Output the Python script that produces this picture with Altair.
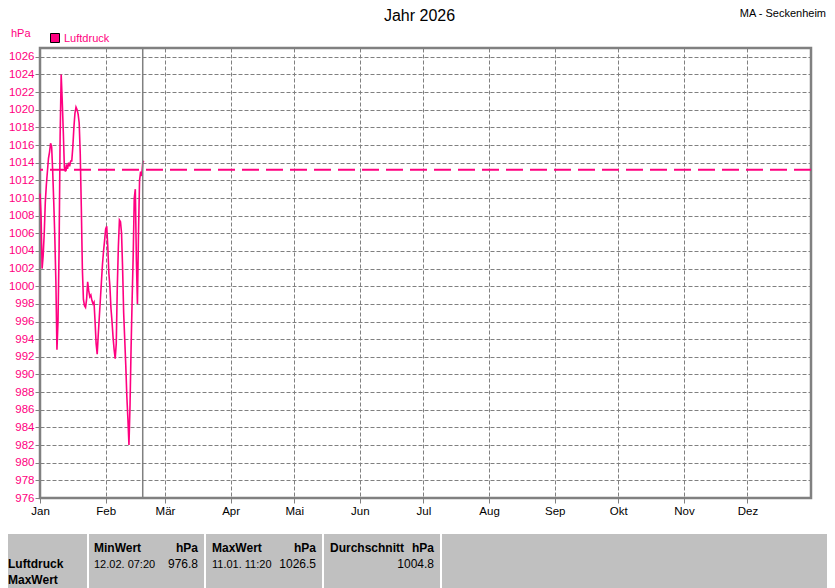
import altair as alt
import pandas as pd

# ---------------- data ----------------
pressure = [
    1010.5, 1008.0, 1002.0, 1003.5, 1006.0, 1009.5, 1011.5, 1013.0, 1014.5, 1015.2,
    1016.2, 1015.8, 1013.0, 1009.5, 1005.5, 1000.5, 992.8, 996.0, 1004.0, 1017.0,
    1024.0, 1021.0, 1017.5, 1013.5, 1013.0, 1013.8, 1013.3, 1014.0, 1013.6, 1014.2,
    1014.2, 1015.8, 1018.0, 1019.6, 1020.3, 1020.0, 1019.5, 1018.5, 1015.0, 1009.0,
    1002.0, 998.5, 997.8, 997.6, 998.5, 1000.5, 999.5, 998.8, 999.0, 998.4,
    998.0, 998.2, 996.0, 993.5, 992.3, 994.5, 996.5, 998.5, 1000.5, 1002.5,
    1004.0, 1005.2, 1006.5, 1006.8, 1004.5, 1001.5, 1000.0, 997.5, 996.0, 994.2,
    992.8, 991.8, 993.5, 1000.0, 1004.5, 1007.5, 1007.3, 1006.0, 1002.0, 997.0,
    994.0, 991.0, 987.5, 985.0, 982.0, 986.5, 993.0, 998.5, 1003.5, 1010.0,
    1011.0, 1003.0, 998.0, 1006.0, 1012.0, 1013.0, 1012.5, 1014.0, 1014.2,
]
times = pd.date_range("2026-01-01 00:00", periods=len(pressure), freq="12h")
series_name = "Luftdruck"
reference_level = [1013.2]
today_marker = ["2026-02-18T12:00:00"]
y_ticks = list(range(976, 1027, 2))
month_labels = ["Jan", "Feb", "Mär", "Apr", "Mai", "Jun", "Jul", "Aug", "Sep", "Okt", "Nov", "Dez"]

title_text = "Jahr 2026"
station_text = "MA - Seckenheim"
unit_text = "hPa"
min_date, min_value = "12.02.  07:20", "976.8"
max_date, max_value = "11.01.  11:20", "1026.5"
avg_value = "1004.8"

PINK = "#FF0080"
GRAY = "#808080"
FONT = "Liberation Sans"

df = pd.DataFrame({"time": times.strftime("%Y-%m-%dT%H:%M:%S"), "value": pressure})
ref_df = pd.DataFrame({"value": reference_level})
today_df = pd.DataFrame({"time": today_marker})

x_scale = alt.Scale(domain=[alt.DateTime(year=2026, month=1, date=1),
                            alt.DateTime(year=2026, month=12, date=31)])
y_scale = alt.Scale(domain=[976, 1027], nice=False, zero=False)

month_vals = [alt.DateTime(year=2026, month=m, date=1) for m in range(1, 13)]
label_expr = "[" + ",".join("'%s'" % m for m in month_labels) + "][month(datum.value)]"

x_axis = alt.Axis(values=month_vals, labelExpr=label_expr, title=None, grid=True,
                  gridDash=[4, 2], gridColor=GRAY, gridOpacity=1, tickColor=GRAY,
                  tickSize=5, labelPadding=2, labelColor="black", labelFont=FONT,
                  labelFontSize=11.5, domain=False, labelAlign="center", labelBaseline="top",
                  labelOverlap=False)
y_axis = alt.Axis(values=y_ticks, format="d", title=None, grid=True, gridDash=[4, 2],
                  gridColor=GRAY, gridOpacity=1, tickColor=GRAY, tickSize=5, labelPadding=1,
                  labelColor=PINK, labelFont=FONT, labelFontSize=11.5, domain=False,
                  labelOverlap=False)

line = alt.Chart(df).mark_line(color=PINK, strokeWidth=1.6, interpolate="linear").encode(
    x=alt.X("time:T", scale=x_scale, axis=x_axis),
    y=alt.Y("value:Q", scale=y_scale, axis=y_axis),
)

ref = alt.Chart(ref_df).mark_rule(color=PINK, strokeWidth=2, strokeDash=[17, 7]).encode(
    y=alt.Y("value:Q", scale=y_scale, axis=y_axis)
)

today = alt.Chart(today_df).mark_rule(color=GRAY, strokeWidth=1.5).encode(
    x=alt.X("time:T", scale=x_scale, axis=x_axis)
)

one = alt.Data(values=[{}])


def txt(text, x, y, size=11, color="black", align="left", bold=False):
    return alt.Chart(one).mark_text(
        text=text, align=align, baseline="alphabetic", font=FONT, fontSize=size,
        color=color, fontWeight="bold" if bold else "normal"
    ).encode(x=alt.value(x), y=alt.value(y))


table_bg = alt.Chart(one).mark_rect(color="#C0C0C0").encode(
    x=alt.value(-40), x2=alt.value(795), y=alt.value(486), y2=alt.value(545)
)
separators = [
    alt.Chart(one).mark_rule(color="white", strokeWidth=2).encode(
        x=alt.value(sx), y=alt.value(486), y2=alt.value(545))
    for sx in (48, 165, 283, 401)
]

legend_box = alt.Chart(one).mark_square(size=81, fill=PINK, stroke="black",
                                         strokeWidth=1, opacity=1).encode(
    x=alt.value(15), y=alt.value(-10))

R0, R1, R2 = 504, 519.5, 535.5
layers = [table_bg] + separators + [
    line, ref, today,
    txt(title_text, 379.5, -27.3, size=16, align="center"),
    txt(station_text, 786, -31.3, size=11, align="right"),
    txt(unit_text, -29, -11.3, size=11, color=PINK),
    legend_box,
    txt(series_name, 24, -6.3, size=11, color=PINK),
    txt(series_name, -32, R1, size=12, bold=True),
    txt("MaxWert", -32, R2, size=12, bold=True),
    txt("MinWert", 54, R0, size=12, bold=True),
    txt(unit_text, 158, R0, size=12, align="right", bold=True),
    txt(min_date, 54, R1, size=11),
    txt(min_value, 158, R1, size=12, align="right"),
    txt("MaxWert", 172, R0, size=12, bold=True),
    txt(unit_text, 276, R0, size=12, align="right", bold=True),
    txt(max_date, 172, R1, size=11),
    txt(max_value, 276, R1, size=12, align="right"),
    txt("Durchschnitt", 290, R0, size=12, bold=True),
    txt(unit_text, 394, R0, size=12, align="right", bold=True),
    txt(avg_value, 394, R1, size=12, align="right"),
]

chart = alt.layer(*layers).properties(
    width=771, height=450, autosize="none",
    padding={"left": 32, "top": 40, "right": 16, "bottom": 90},
).configure_view(stroke=GRAY, strokeWidth=2.5)

chart.save("out.html", embed_options={"renderer": "svg", "actions": False})
